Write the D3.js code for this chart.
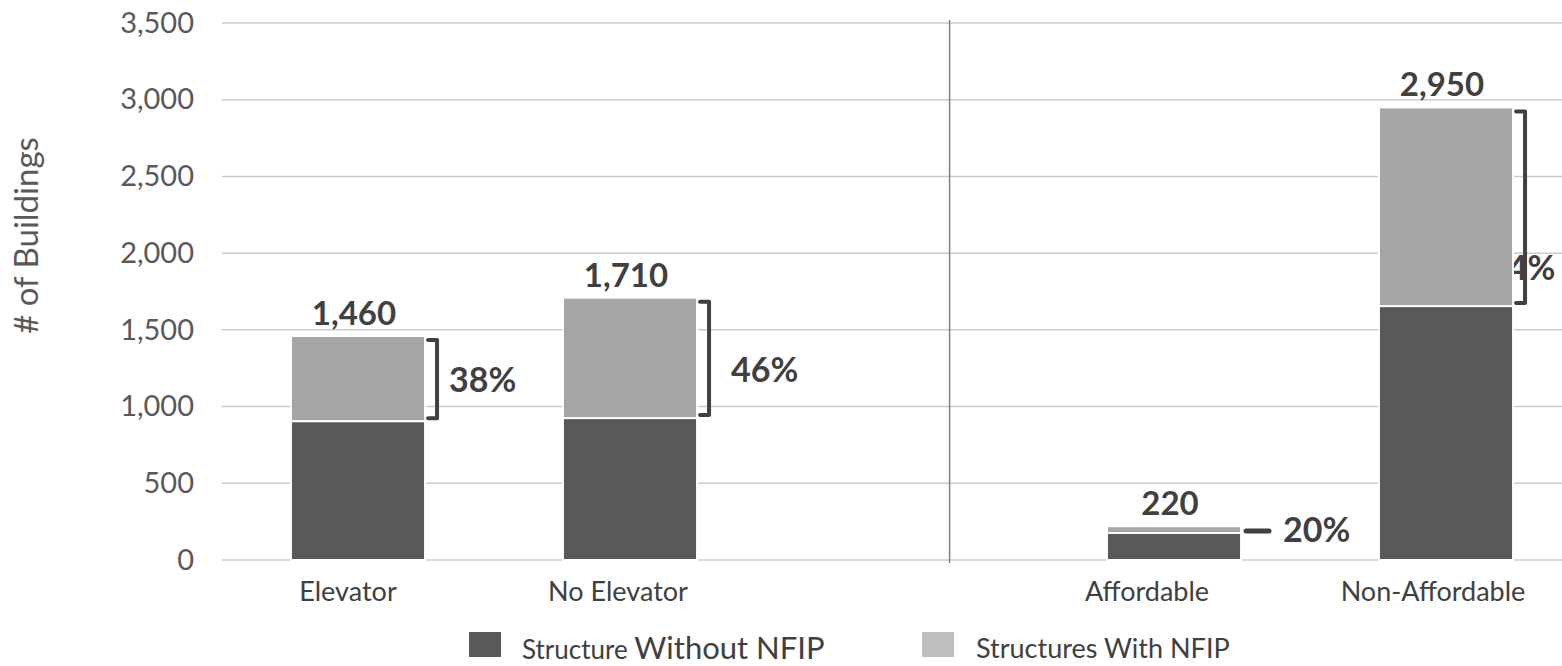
<!DOCTYPE html>
<html>
<head>
<meta charset="utf-8">
<script src="https://cdn.jsdelivr.net/npm/d3@7"></script>
<style>
  html, body { margin: 0; padding: 0; background: #ffffff; }
  svg { display: block; font-family: Lato, "Noto Sans", sans-serif; }
</style>
</head>
<body>
<svg id="chart" width="1562" height="666"></svg>
<script>
// ---------- data ----------
const categories = ["Elevator", "No Elevator", "Affordable", "Non-Affordable"];
const withoutNFIP = [905, 925, 176, 1655];
const withNFIP = [555, 785, 44, 1295];
const yTicks = [0, 500, 1000, 1500, 2000, 2500, 3000, 3500];
const seriesNames = ["Structure", "Without NFIP", "Structures With NFIP"];

// ---------- layout ----------
const W = 1562, H = 666;
const colDark = "#595959", colLight = "#a6a6a6", colLegendLight = "#bfbfbf";
const gridCol = "#cccccc";
const gapSlot = "__gap__";
const slots = [categories[0], categories[1], gapSlot, categories[2], categories[3]];
// per-label fine placement of the percentage annotations (dx from bracket, dy from bracket middle)
const pctPlace = [{dx: 12, dy: 13}, {dx: 22, dy: 24}, {dx: 14, dy: 11}, {dx: -37, dy: 73}];
const catLabelDx = [-10, -12, -27, -13];

const svg = d3.select("#chart");

const y = d3.scaleLinear().domain([0, 3500]).range([560, 23]);
const x = d3.scaleBand().domain(slots).range([222, 1582]).paddingInner(0.507).paddingOuter(0.2535);

const data = categories.map((c, i) => ({
  cat: c, i,
  without: withoutNFIP[i],
  with: withNFIP[i],
  total: withoutNFIP[i] + withNFIP[i]
}));

// gridlines
svg.append("g").selectAll("line").data(yTicks).join("line")
  .attr("x1", 222).attr("x2", W)
  .attr("y1", d => y(d)).attr("y2", d => y(d))
  .attr("stroke", gridCol).attr("stroke-width", 1.5);

// y axis tick labels
const yAxis = d3.axisLeft(y).tickValues(yTicks).tickFormat(d3.format(",")).tickSize(0).tickPadding(0);
const gy = svg.append("g").attr("transform", "translate(194,0)").call(yAxis);
gy.select(".domain").remove();
gy.selectAll("text").attr("font-size", 29).attr("fill", "#595959")
  .attr("font-family", "Lato, sans-serif");

// y axis title
svg.append("text")
  .attr("transform", `translate(38,${(133 + 338) / 2}) rotate(-90)`)
  .attr("text-anchor", "middle")
  .attr("font-size", 33).attr("fill", "#595959")
  .text("# of Buildings");

// separator line
const sepX = x(gapSlot) + x.bandwidth() / 2 + x.step() * 0.175;
svg.append("line")
  .attr("x1", sepX).attr("x2", sepX).attr("y1", 20).attr("y2", 563)
  .attr("stroke", "#808080").attr("stroke-width", 1.5);

// bracket geometry
function bracket(d) {
  const right = x(d.cat) + x.bandwidth();
  const top = y(d.total) + 4, bottom = y(d.without) - 3;
  const h = bottom - top;
  if (h < 12) {
    const my = (y(d.total) + y(d.without)) / 2 + 1.5;
    return {small: true, x0: right + 5, x1: right + 28, top: my, bottom: my, mid: my, vx: right + 28};
  }
  return {small: false, x0: right + 3, x1: right + 12, top, bottom, mid: (top + bottom) / 2, vx: right + 12};
}

// percentage labels (drawn beneath bars)
const pctFmt = d3.format(".0%");
svg.append("g").selectAll("text").data(data).join("text")
  .attr("x", d => bracket(d).vx + pctPlace[d.i].dx)
  .attr("y", d => bracket(d).mid + pctPlace[d.i].dy)
  .attr("font-size", 34).attr("font-weight", 700).attr("fill", "#404040")
  .text(d => pctFmt(d.with / d.total));

// bars
const gBars = svg.append("g");
gBars.selectAll("rect.dark").data(data).join("rect").attr("class", "dark")
  .attr("x", d => x(d.cat)).attr("width", x.bandwidth())
  .attr("y", d => y(d.without)).attr("height", d => y(0) - y(d.without))
  .attr("fill", colDark).attr("stroke", "#ffffff").attr("stroke-width", 2);
gBars.selectAll("rect.light").data(data).join("rect").attr("class", "light")
  .attr("x", d => x(d.cat)).attr("width", x.bandwidth())
  .attr("y", d => y(d.total)).attr("height", d => y(d.without) - y(d.total))
  .attr("fill", colLight).attr("stroke", "#ffffff").attr("stroke-width", 2);

// brackets
svg.append("g").selectAll("path").data(data).join("path")
  .attr("d", d => {
    const b = bracket(d);
    if (b.small) return `M${b.x0},${b.mid}H${b.x1}`;
    return `M${b.x0},${b.top}H${b.x1}V${b.bottom}H${b.x0}`;
  })
  .attr("fill", "none").attr("stroke", "#404040")
  .attr("stroke-width", d => bracket(d).small ? 5 : 4)
  .attr("stroke-linejoin", "round").attr("stroke-linecap", "round");

// total labels
svg.append("g").selectAll("text").data(data).join("text")
  .attr("x", d => x(d.cat) + x.bandwidth() / 2 - 4)
  .attr("y", d => y(d.total) - 11)
  .attr("text-anchor", "middle")
  .attr("font-size", 33).attr("font-weight", 700).attr("fill", "#404040")
  .text(d => d3.format(",")(d.total));

// category labels
svg.append("g").selectAll("text").data(data).join("text")
  .attr("x", d => x(d.cat) + x.bandwidth() / 2 + catLabelDx[d.i])
  .attr("y", 601)
  .attr("text-anchor", "middle")
  .attr("font-size", 27).attr("fill", "#404040")
  .text(d => d.cat);

// legend
const lg = svg.append("g");
lg.append("rect").attr("x", 469).attr("y", 632).attr("width", 32).attr("height", 25).attr("fill", colDark);
const t1 = lg.append("text").attr("x", 522).attr("y", 659).attr("fill", "#404040");
t1.append("tspan").attr("font-size", 26).text(seriesNames[0] + " ");
t1.append("tspan").attr("font-size", 31).text(seriesNames[1]);
lg.append("rect").attr("x", 922).attr("y", 632).attr("width", 32).attr("height", 25).attr("fill", colLegendLight);
lg.append("text").attr("x", 976).attr("y", 658).attr("fill", "#404040")
  .attr("font-size", 27).text(seriesNames[2]);
</script>
</body>
</html>
